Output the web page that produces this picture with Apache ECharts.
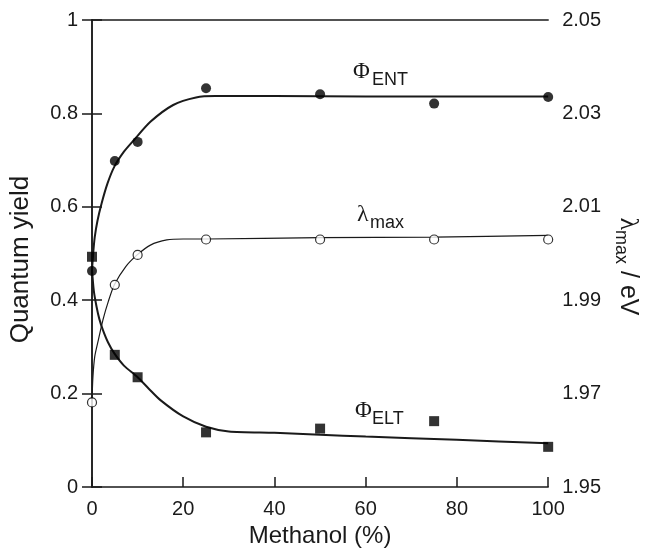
<!DOCTYPE html>
<html>
<head>
<meta charset="utf-8">
<script src="https://cdn.jsdelivr.net/npm/echarts@6/dist/echarts.min.js"></script>
<style>
  html, body { margin: 0; padding: 0; background: #fff; }
  #chart { width: 649px; height: 554px; }
</style>
</head>
<body>
<div id="chart"></div>
<script>
// measured points
const methanol = [0, 5, 10, 25, 50, 75, 100];
const phiEnt = [0.4625, 0.698, 0.739, 0.854, 0.841, 0.821, 0.835];
const phiElt = [0.493, 0.283, 0.235, 0.117, 0.125, 0.141, 0.086];
const lambdaMax = [1.9681, 1.9933, 1.9997, 2.0030, 2.0030, 2.0030, 2.0030];

// fitted curves
const entFitX = [0, 0.3, 0.6, 1.2, 2.1, 3.4, 4.9, 7, 9.2, 12.8, 17.8, 22.8, 27, 40, 60, 80, 100];
const entFitY = [0.465, 0.505, 0.535, 0.57, 0.607, 0.65, 0.686, 0.718, 0.743, 0.782, 0.818, 0.834, 0.837, 0.837, 0.836, 0.836, 0.836];
const eltFitX = [0, 0.4, 1, 1.6, 2.4, 3.5, 4.9, 7, 9.9, 12.5, 15, 20, 25, 30, 40, 50, 60, 80, 100];
const eltFitY = [0.465, 0.42, 0.386, 0.36, 0.336, 0.31, 0.286, 0.26, 0.236, 0.21, 0.186, 0.151, 0.129, 0.119, 0.116, 0.112, 0.108, 0.101, 0.0935];
const lamFitX = [0, 0.2, 0.6, 1.4, 2.4, 3.6, 4.9, 7.4, 9.9, 12.8, 16.4, 20, 25, 50, 75, 100];
const lamFitY = [1.9685, 1.9735, 1.9779, 1.9815, 1.9858, 1.9898, 1.9933, 1.9972, 1.9997, 2.0018, 2.0029, 2.0031, 2.0031, 2.0034, 2.0035, 2.0039];

const FONT = 'Liberation Sans, Arial, sans-serif';
const SERIF = 'Liberation Serif, Times New Roman, serif';
const INK = '#1a1a1a';

const zip = (xs, ys) => xs.map((x, i) => [x, ys[i]]);

const chart = echarts.init(document.getElementById('chart'));

const axisLine = { show: true, lineStyle: { color: INK, width: 1.5 } };
const axisTick = { show: true, inside: true, length: 10, lineStyle: { color: INK, width: 1.5 } };

const fitLine = (data, yIdx, width) => ({
    type: 'line',
    data: data,
    yAxisIndex: yIdx,
    showSymbol: false,
    symbol: 'none',
    smooth: 0.25,
    lineStyle: { color: INK, width: width },
    silent: true,
    z: 2,
});

const option = {
    animation: false,
    backgroundColor: '#fff',
    grid: { left: 92, right: 91, top: 20, bottom: 67 },
    xAxis: [
        {
            type: 'value',
            min: 0,
            max: 100,
            interval: 20,
            name: 'Methanol (%)',
            nameLocation: 'middle',
            nameGap: 33,
            nameTextStyle: { fontFamily: FONT, fontSize: 24, color: INK },
            axisLine: axisLine,
            axisTick: axisTick,
            axisLabel: { fontFamily: FONT, fontSize: 20, color: INK, margin: 12 },
            splitLine: { show: false },
        },
        {
            type: 'value',
            position: 'top',
            min: 0,
            max: 100,
            axisLine: axisLine,
            axisTick: { show: false },
            axisLabel: { show: false },
            splitLine: { show: false },
        },
    ],
    yAxis: [
        {
            type: 'value',
            min: 0,
            max: 1,
            interval: 0.2,
            name: 'Quantum yield',
            nameLocation: 'middle',
            nameGap: 58,
            nameRotate: 90,
            nameTextStyle: { fontFamily: FONT, fontSize: 26, color: INK, padding: [0, 12, 0, 0] },
            axisLine: axisLine,
            axisTick: axisTick,
            axisLabel: { fontFamily: FONT, fontSize: 20, color: INK, margin: 14 },
            splitLine: { show: false },
        },
        {
            type: 'value',
            position: 'right',
            min: 1.95,
            max: 2.05,
            interval: 0.02,
            name: '{l|λ}{s|max}{r| / eV}',
            nameLocation: 'middle',
            nameGap: 62,
            nameRotate: -90,
            nameTextStyle: {
                color: INK,
                padding: [0, 0, 0, 26],
                rich: {
                    l: { fontFamily: SERIF, fontSize: 26, color: INK, lineHeight: 32, verticalAlign: 'middle' },
                    s: { fontFamily: FONT, fontSize: 18, color: INK, verticalAlign: 'bottom', lineHeight: 18 },
                    r: { fontFamily: FONT, fontSize: 25, color: INK, lineHeight: 32 },
                },
            },
            axisLine: axisLine,
            axisTick: axisTick,
            axisLabel: {
                fontFamily: FONT, fontSize: 20, color: INK, margin: 14,
                formatter: (v) => v.toFixed(2),
            },
            splitLine: { show: false },
        },
    ],
    series: [
        fitLine(zip(entFitX, entFitY), 0, 2),
        fitLine(zip(eltFitX, eltFitY), 0, 2),
        fitLine(zip(lamFitX, lamFitY), 1, 1.2),
        {
            type: 'scatter',
            data: zip(methanol, phiEnt),
            yAxisIndex: 0,
            symbol: 'circle',
            symbolSize: 10,
            itemStyle: { color: '#000' },
            clip: false,
            z: 5,
        },
        {
            type: 'scatter',
            data: zip(methanol, phiElt),
            yAxisIndex: 0,
            symbol: 'rect',
            symbolSize: 10,
            itemStyle: { color: '#000' },
            clip: false,
            z: 5,
        },
        {
            type: 'scatter',
            data: zip(methanol, lambdaMax),
            yAxisIndex: 1,
            symbol: 'circle',
            symbolSize: 9,
            itemStyle: { color: '#fff', borderColor: '#000', borderWidth: 1.2 },
            clip: false,
            z: 5,
        },
    ],
    graphic: [
        { type: 'text', left: 353, top: 60, style: { text: 'Φ', font: '23px ' + SERIF, fill: INK } },
        { type: 'text', left: 372, top: 71, style: { text: 'ENT', font: '18px ' + FONT, fill: INK } },
        { type: 'text', left: 357, top: 203, style: { text: 'λ', font: '24px ' + SERIF, fill: INK } },
        { type: 'text', left: 370, top: 214, style: { text: 'max', font: '18px ' + FONT, fill: INK } },
        { type: 'text', left: 355, top: 399, style: { text: 'Φ', font: '23px ' + SERIF, fill: INK } },
        { type: 'text', left: 372, top: 410, style: { text: 'ELT', font: '18px ' + FONT, fill: INK } },
    ],
};

chart.setOption(option);
</script>
</body>
</html>
